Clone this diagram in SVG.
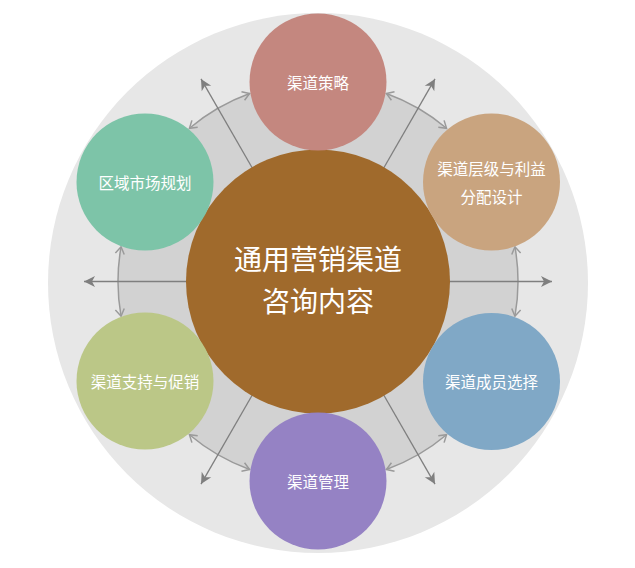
<svg xmlns="http://www.w3.org/2000/svg" width="635" height="568" viewBox="0 0 635 568">
<style>
.lbl{font-family:"Noto Sans CJK SC","Microsoft YaHei",sans-serif;fill:#ffffff;text-anchor:middle;dominant-baseline:central;font-size:15.5px;}
.big{font-size:28px;}
.arc{fill:none;stroke:#9a9a9a;stroke-width:1.5;marker-start:url(#chevS);marker-end:url(#chevE);}
.ray{fill:none;stroke:#7f7f7f;stroke-width:1.3;marker-end:url(#tri);}
</style>
<defs>
<marker id="chevE" markerUnits="userSpaceOnUse" viewBox="-10 -6 12 12" refX="0" refY="0" markerWidth="12" markerHeight="12" orient="auto">
<path d="M-7,-4.5 L0,0 L-7,4.5" fill="none" stroke="#9a9a9a" stroke-width="1.5"/>
</marker>
<marker id="chevS" markerUnits="userSpaceOnUse" viewBox="-10 -6 12 12" refX="0" refY="0" markerWidth="12" markerHeight="12" orient="auto-start-reverse">
<path d="M-7,-4.5 L0,0 L-7,4.5" fill="none" stroke="#9a9a9a" stroke-width="1.5"/>
</marker>
<marker id="tri" markerUnits="userSpaceOnUse" viewBox="-12 -7 14 14" refX="0" refY="0" markerWidth="14" markerHeight="14" orient="auto">
<path d="M0,0 L-11,-5.5 L-8,0 L-11,5.5 Z" fill="#7f7f7f"/>
</marker>
</defs>
<rect width="635" height="568" fill="#ffffff"/>
<g id="background">
<circle cx="318" cy="283" r="270" fill="#e7e7e7"/>
<circle cx="318" cy="281.5" r="200" fill="#d2d2d2"/>
</g>
<g id="connectors">
<path class="arc" d="M514.96,246.78 A200,200 0 0 1 514.96,316.22"/>
<path class="arc" d="M386.4,93.56 A200,200 0 0 1 446.56,128.3"/>
<path class="arc" d="M189.44,128.3 A200,200 0 0 1 249.6,93.56"/>
<path class="arc" d="M121.04,316.22 A200,200 0 0 1 121.04,246.78"/>
<path class="arc" d="M249.6,469.44 A200,200 0 0 1 189.44,434.7"/>
<path class="arc" d="M446.56,434.7 A200,200 0 0 1 386.4,469.44"/>
<path class="ray" d="M440,281.5 L552,281.5"/>
<path class="ray" d="M382,171 L435,78.9"/>
<path class="ray" d="M254,171 L201,78.9"/>
<path class="ray" d="M196,281.5 L84,281.5"/>
<path class="ray" d="M254,392 L201,484.1"/>
<path class="ray" d="M382,392 L435,484.1"/>
</g>
<g id="center">
<circle cx="318" cy="281.5" r="132" fill="#a06a2c"/>
<text class="lbl big" x="318" y="258">通用营销渠道</text>
<text class="lbl big" x="318" y="300">咨询内容</text>
</g>
<g id="n1">
<circle cx="318" cy="82" r="68.5" fill="#c4877f"/>
<text class="lbl" x="318" y="82">渠道策略</text>
</g>
<g id="n2">
<circle cx="491.5" cy="182" r="68.5" fill="#c9a47f"/>
<text class="lbl" x="491.5" y="168">渠道层级与利益</text>
<text class="lbl" x="491.5" y="196">分配设计</text>
</g>
<g id="n3">
<circle cx="491.5" cy="381.5" r="68.5" fill="#80a8c6"/>
<text class="lbl" x="491.5" y="381">渠道成员选择</text>
</g>
<g id="n4">
<circle cx="318" cy="481" r="68.5" fill="#9582c4"/>
<text class="lbl" x="318" y="481">渠道管理</text>
</g>
<g id="n5">
<circle cx="145" cy="381" r="68.5" fill="#bbc787"/>
<text class="lbl" x="145" y="381">渠道支持与促销</text>
</g>
<g id="n6">
<circle cx="145" cy="182" r="68.5" fill="#7dc4a8"/>
<text class="lbl" x="145" y="182">区域市场规划</text>
</g>
</svg>
